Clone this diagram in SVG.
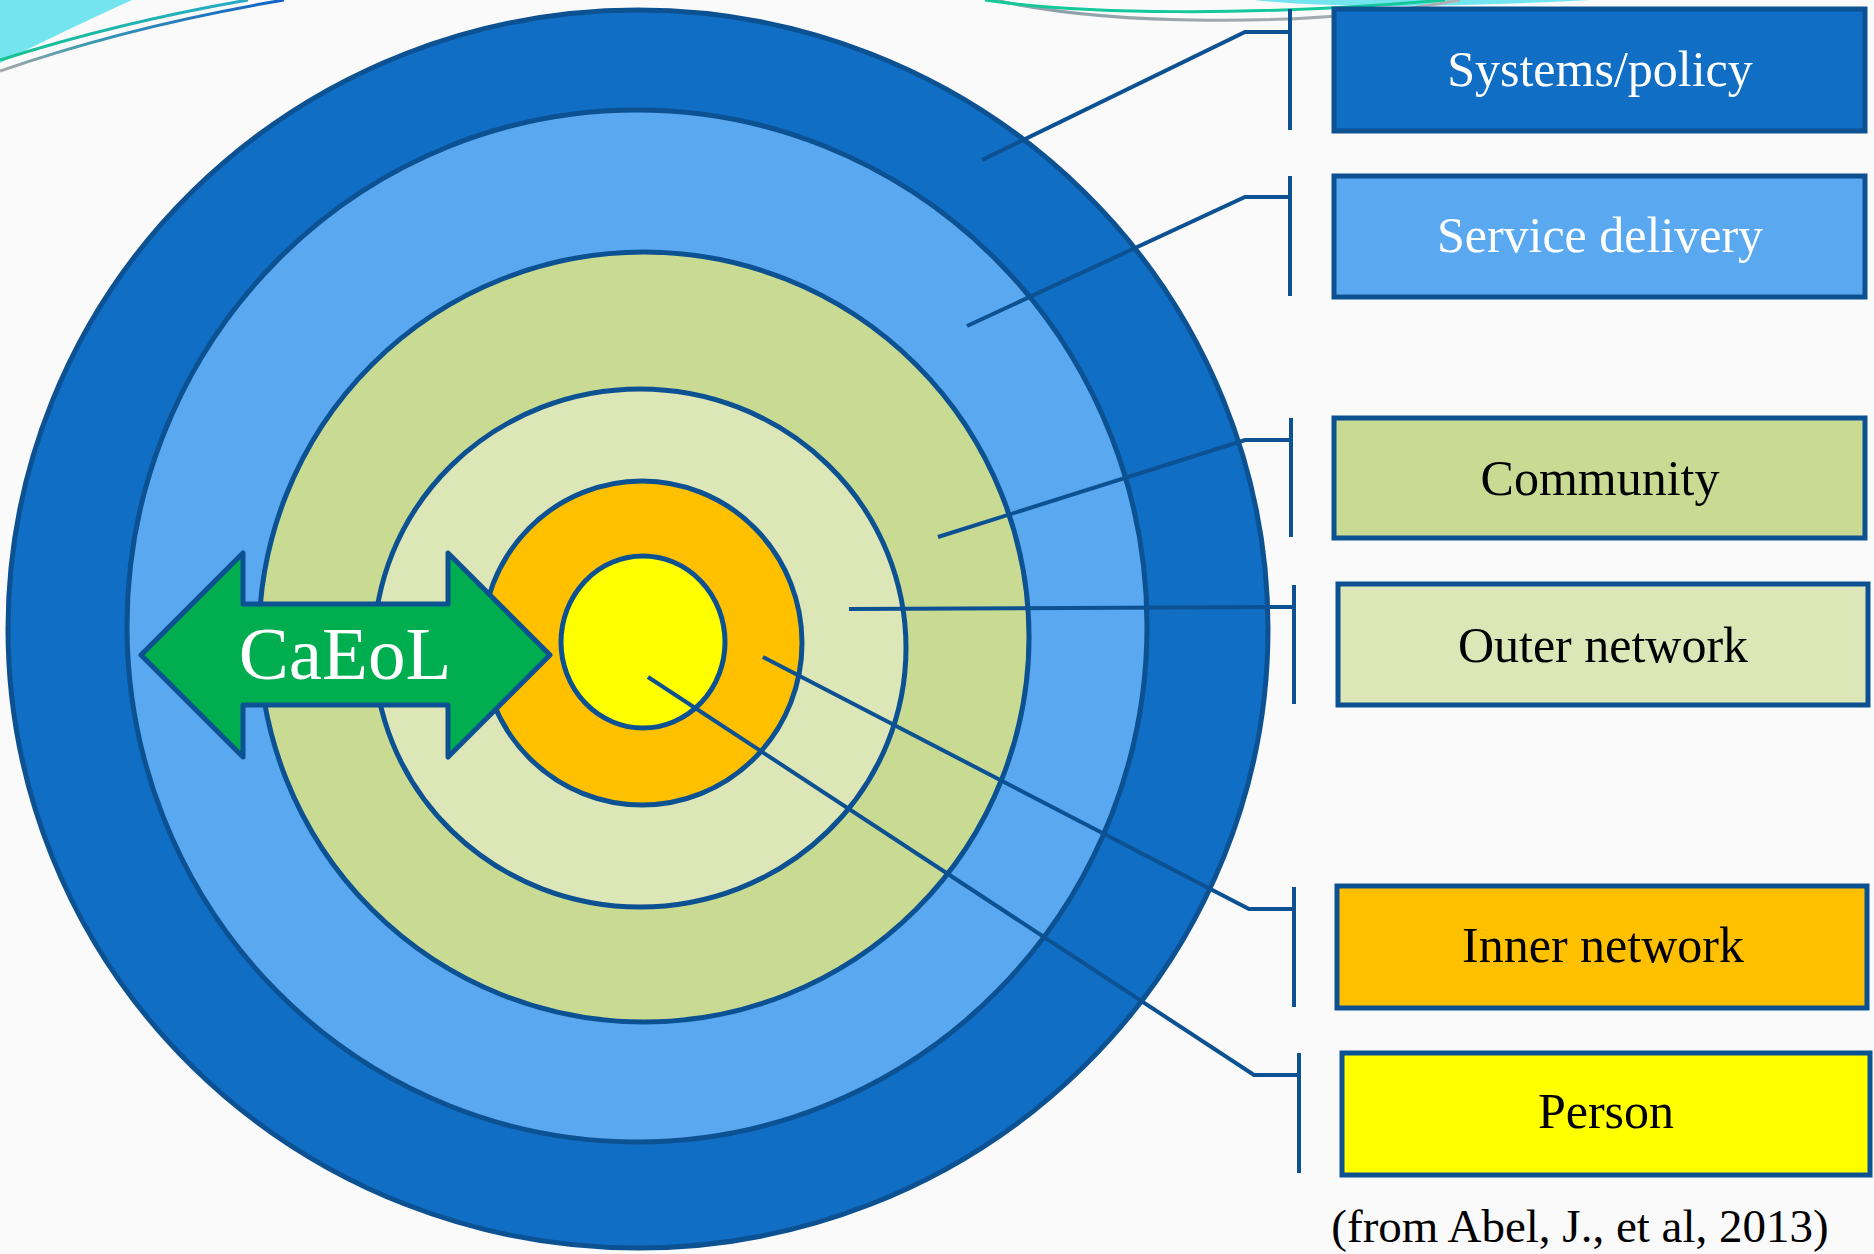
<svg xmlns="http://www.w3.org/2000/svg" width="1874" height="1254" viewBox="0 0 1874 1254">
  <defs>
    <linearGradient id="swooshGreen" x1="0" y1="1" x2="1" y2="0">
      <stop offset="0" stop-color="#12C48E"/>
      <stop offset="1" stop-color="#2AA8C8"/>
    </linearGradient>
    <linearGradient id="swooshGrey" x1="0" y1="1" x2="1" y2="0">
      <stop offset="0" stop-color="#A8A8A8"/>
      <stop offset="0.35" stop-color="#3A9AB0"/>
      <stop offset="1" stop-color="#1262C8"/>
    </linearGradient>
    <linearGradient id="swooshGrey2" x1="0" y1="0" x2="1" y2="0">
      <stop offset="0" stop-color="#8AA0A8"/>
      <stop offset="1" stop-color="#B0B0B0"/>
    </linearGradient>
  </defs>
  <style>
    .ring { stroke: #0C5192; stroke-width: 5; }
    .conn { fill: none; stroke: #0C5192; stroke-width: 4; stroke-linejoin: miter; }
    .box { stroke: #0C5192; stroke-width: 5; }
    .lbl { font-family: "Liberation Serif", "DejaVu Serif", serif; font-size: 50px; text-anchor: middle; }
    .light { fill: #FFFFFF; }
    .dark { fill: #000000; }
  </style>

  <!-- page background -->
  <rect x="0" y="0" width="1874" height="1254" fill="#FAFAFA"/>

  <!-- decorative swooshes along the top edge -->
  <g id="swooshes">
    <path d="M0,0 L132,0 Q70,28 0,63 Z" fill="#74E4EF"/>
    <path d="M0,60 Q120,22 248,0" fill="none" stroke="url(#swooshGreen)" stroke-width="3"/>
    <path d="M0,71 Q130,26 284,0" fill="none" stroke="url(#swooshGrey)" stroke-width="3"/>
    <path d="M1254,0 Q1360,12 1590,0 Z" fill="#74E4EF"/>
    <path d="M995,0 C1100,24 1300,30 1460,0" fill="none" stroke="url(#swooshGrey2)" stroke-width="3"/>
    <path d="M985,0 C1080,14 1250,17 1445,0" fill="none" stroke="#14C89A" stroke-width="3"/>
  </g>

  <!-- concentric rings, outermost first -->
  <g id="ring-systems"><ellipse class="ring" cx="638" cy="629" rx="630" ry="619" fill="#106EC5"/></g>
  <g id="ring-service"><ellipse class="ring" cx="637" cy="626" rx="510" ry="516" fill="#5AA9F0"/></g>
  <g id="ring-community"><ellipse class="ring" cx="644" cy="637" rx="385" ry="385" fill="#C9DA93"/></g>
  <g id="ring-outer"><ellipse class="ring" cx="640" cy="648" rx="266" ry="259" fill="#DCE6B6"/></g>
  <g id="ring-inner"><ellipse class="ring" cx="642" cy="643" rx="160" ry="162" fill="#FFC000"/></g>
  <g id="ring-person"><ellipse class="ring" cx="643" cy="642" rx="82" ry="86" fill="#FFFF00"/></g>

  <!-- double-headed CaEoL arrow -->
  <g id="caeol-arrow">
    <polygon points="141,655 243,553 243,604 448,604 448,553 550,655 448,757 448,705 243,705 243,757"
             fill="#00AD4F" stroke="#0C5192" stroke-width="5" stroke-linejoin="round"/>
    <text x="345" y="679" font-family="'Liberation Serif', 'DejaVu Serif', serif" font-size="75" fill="#FFFFFF" text-anchor="middle">CaEoL</text>
  </g>

  <!-- leader lines from each ring to its label bracket -->
  <g id="connectors">
    <polyline class="conn" points="982,160 1245,32 1290,32"/>
    <line class="conn" x1="1290" y1="9" x2="1290" y2="130"/>
    <polyline class="conn" points="967,326 1245,197 1290,197"/>
    <line class="conn" x1="1290" y1="176" x2="1290" y2="296"/>
    <polyline class="conn" points="938,537 1245,440 1291,440"/>
    <line class="conn" x1="1291" y1="418" x2="1291" y2="537"/>
    <polyline class="conn" points="849,609 1294,607"/>
    <line class="conn" x1="1294" y1="585" x2="1294" y2="704"/>
    <polyline class="conn" points="763,657 1249,909 1294,909"/>
    <line class="conn" x1="1294" y1="887" x2="1294" y2="1007"/>
    <polyline class="conn" points="648,677 1254,1075 1299,1075"/>
    <line class="conn" x1="1299" y1="1053" x2="1299" y2="1173"/>
  </g>

  <!-- legend boxes -->
  <g id="label-systems">
    <rect class="box" x="1334" y="9" width="531" height="122" fill="#106EC5"/>
    <text class="lbl light" x="1600" y="86">Systems/policy</text>
  </g>
  <g id="label-service">
    <rect class="box" x="1334" y="176" width="531" height="121" fill="#5AA9F0"/>
    <text class="lbl light" x="1600" y="252">Service delivery</text>
  </g>
  <g id="label-community">
    <rect class="box" x="1334" y="418" width="531" height="120" fill="#C9DA93"/>
    <text class="lbl dark" x="1600" y="495">Community</text>
  </g>
  <g id="label-outer">
    <rect class="box" x="1338" y="584" width="530" height="121" fill="#DCE6B6"/>
    <text class="lbl dark" x="1603" y="662">Outer network</text>
  </g>
  <g id="label-inner">
    <rect class="box" x="1337" y="886" width="530" height="122" fill="#FFC000"/>
    <text class="lbl dark" x="1603" y="962">Inner network</text>
  </g>
  <g id="label-person">
    <rect class="box" x="1342" y="1053" width="528" height="122" fill="#FFFF00"/>
    <text class="lbl dark" x="1606" y="1128">Person</text>
  </g>

  <!-- source citation -->
  <text x="1580" y="1242" font-family="'Liberation Serif', 'DejaVu Serif', serif" font-size="47" fill="#000000" text-anchor="middle">(from Abel, J., et al, 2013)</text>
</svg>
